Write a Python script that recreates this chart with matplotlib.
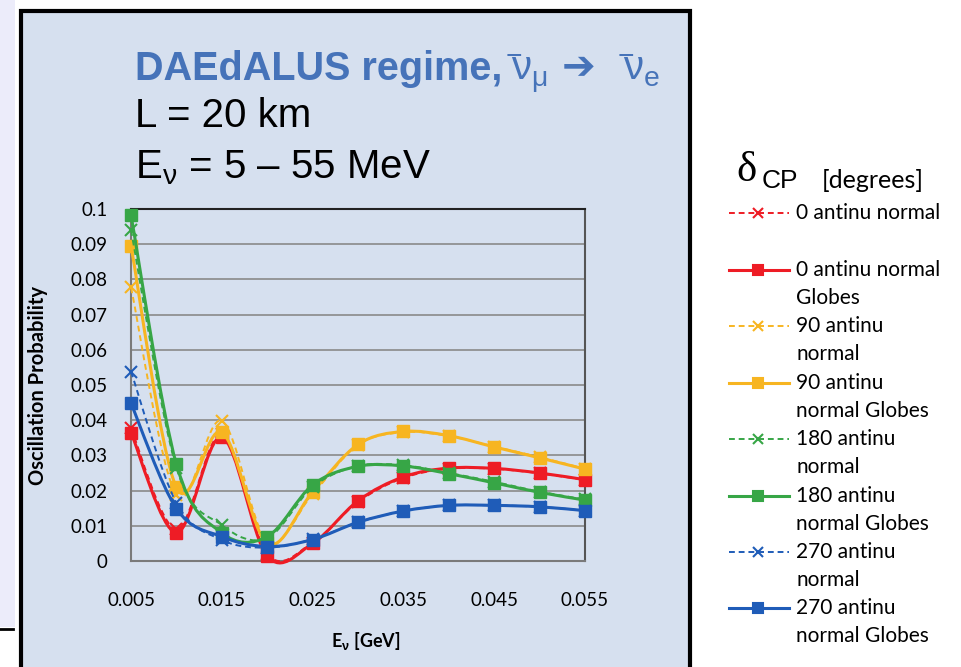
import numpy as np
import matplotlib
matplotlib.use("Agg")
import matplotlib.pyplot as plt
from matplotlib.path import Path
from matplotlib.patches import PathPatch, Rectangle
from matplotlib.lines import Line2D

# energies [GeV]
energia = [0.005, 0.010, 0.015, 0.020, 0.025, 0.030, 0.035, 0.040, 0.045, 0.050, 0.055]

# oscillation probability
p0_normal = [0.0377, 0.0090, 0.0360, 0.0020, 0.0052, 0.0168, 0.0236, 0.0262, 0.0262, 0.0249, 0.0230]
p0_globes = [0.0365, 0.0080, 0.0352, 0.0014, 0.0050, 0.0171, 0.0239, 0.0264, 0.0263, 0.0250, 0.0231]
p90_normal = [0.0777, 0.0187, 0.0398, 0.0055, 0.0190, 0.0330, 0.0366, 0.0355, 0.0325, 0.0295, 0.0262]
p90_globes = [0.0895, 0.0209, 0.0366, 0.0050, 0.0196, 0.0331, 0.0368, 0.0356, 0.0324, 0.0293, 0.0261]
p180_normal = [0.0940, 0.0265, 0.0102, 0.0065, 0.0210, 0.0270, 0.0272, 0.0250, 0.0225, 0.0197, 0.0175]
p180_globes = [0.0982, 0.0275, 0.0080, 0.0069, 0.0216, 0.0269, 0.0270, 0.0248, 0.0222, 0.0195, 0.0173]
p270_normal = [0.0538, 0.0165, 0.0060, 0.0038, 0.0062, 0.0110, 0.0142, 0.0158, 0.0158, 0.0154, 0.0143]
p270_globes = [0.0448, 0.0149, 0.0069, 0.0041, 0.0061, 0.0110, 0.0142, 0.0158, 0.0158, 0.0154, 0.0143]

etiquetas = [
    "0 antinu normal",
    "0 antinu normal\nGlobes",
    "90 antinu\nnormal",
    "90 antinu\nnormal Globes",
    "180 antinu\nnormal",
    "180 antinu\nnormal Globes",
    "270 antinu\nnormal",
    "270 antinu\nnormal Globes",
]
series = [p0_normal, p0_globes, p90_normal, p90_globes,
          p180_normal, p180_globes, p270_normal, p270_globes]

xticks = [0.005, 0.015, 0.025, 0.035, 0.045, 0.055]
xtick_labels = ["0.005", "0.015", "0.025", "0.035", "0.045", "0.055"]
yticks = [0, 0.01, 0.02, 0.03, 0.04, 0.05, 0.06, 0.07, 0.08, 0.09, 0.1]
ytick_labels = ["0", "0.01", "0.02", "0.03", "0.04", "0.05", "0.06", "0.07", "0.08", "0.09", "0.1"]

colores = ["#ee1c25", "#ee1c25", "#f7b521", "#f7b521",
           "#37a646", "#37a646", "#1f5cb8", "#1f5cb8"]

W, H = 961, 667
FONDO = "#d6e0ef"
AZUL = "#4673b9"
FUENTE = ["Lato", "DejaVu Sans"]

# letras griegas rectas en los textos matematicos
plt.rcParams["mathtext.fontset"] = "custom"
plt.rcParams["mathtext.rm"] = "Liberation Sans"
plt.rcParams["mathtext.it"] = "Liberation Sans"
plt.rcParams["mathtext.bf"] = "Liberation Sans:bold"


def curva_suave(x, y):
    # linea suavizada tipo excel: tramos catmull-rom como bezier cubicas
    pts = np.column_stack([x, y])
    n = len(pts)
    verts = [pts[0]]
    codes = [Path.MOVETO]
    for i in range(n - 1):
        p0 = pts[max(i - 1, 0)]
        p1 = pts[i]
        p2 = pts[i + 1]
        p3 = pts[min(i + 2, n - 1)]
        verts += [p1 + (p2 - p0) / 6, p2 - (p3 - p1) / 6, p2]
        codes += [Path.CURVE4] * 3
    return Path(verts, codes)


fig = plt.figure(figsize=(W / 100, H / 100), dpi=100, facecolor="white")

# fondo: marco del grafico y franja izquierda
bg = fig.add_axes([0, 0, 1, 1], zorder=-1)
bg.set_xlim(0, W)
bg.set_ylim(H, 0)
bg.axis("off")
bg.add_patch(Rectangle((0, 0), 15, 627, facecolor="#ececfa", edgecolor="none"))
bg.plot([0, 13], [629, 629], color="black", lw=2)
bg.add_patch(Rectangle((21, 11), 669, 670, facecolor=FONDO, edgecolor="black", lw=3))

# area de datos
x0, x1, y0, y1 = 131, 585, 209, 561
ax = fig.add_axes([x0 / W, 1 - y1 / H, (x1 - x0) / W, (y1 - y0) / H])
ax.set_facecolor("none")
ax.set_xlim(0.005, 0.055)
ax.set_ylim(0, 0.1)
ax.set_yticks(yticks)
ax.set_yticklabels(ytick_labels, fontsize=13.5, family=FUENTE)
ax.set_xticks(xticks)
ax.set_xticklabels(xtick_labels, fontsize=13.5, family=FUENTE)
ax.tick_params(length=0)
ax.tick_params(axis="y", pad=17)
ax.tick_params(axis="x", pad=22)
ax.grid(axis="y", color="#8a8a8a", lw=1.2)
ax.set_axisbelow(True)
for lado in ["left", "bottom"]:
    ax.spines[lado].set_color("#7a7a7a")
    ax.spines[lado].set_linewidth(1.5)
ax.spines["top"].set_color("#222222")
ax.spines["top"].set_linewidth(1.5)
ax.spines["right"].set_color("#555555")
ax.spines["right"].set_linewidth(1.5)

for i, (valores, col) in enumerate(zip(series, colores)):
    globes = i % 2 == 1
    ruta = curva_suave(energia, valores)
    ax.add_patch(PathPatch(
        ruta, fill=False, edgecolor=col,
        lw=2.2 if globes else 1.4,
        linestyle="-" if globes else (0, (3, 2)),
        zorder=3 + i, clip_on=False,
    ))
    if globes:
        ax.plot(energia, valores, ls="none", marker="s", ms=8, color=col,
                zorder=3 + i, clip_on=False)
    else:
        ax.plot(energia, valores, ls="none", marker="x", ms=8, mew=1.5,
                color=col, zorder=3 + i, clip_on=False)

# titulos
fig.text(135 / W, 1 - 80 / H, "DAEdALUS regime,", fontsize=28.5, fontweight="bold",
         color=AZUL, family="Liberation Sans", va="baseline")
fig.text(505 / W, 1 - 80 / H, r"$^{-}\!\!\nu_{\mu}$", fontsize=29, color=AZUL,
         va="baseline")
fig.text(562 / W, 1 - 79 / H, "➔", fontsize=29, color=AZUL,
         family="DejaVu Sans", va="baseline")
fig.text(617 / W, 1 - 80 / H, r"$^{-}\!\!\nu_{e}$", fontsize=29, color=AZUL,
         va="baseline")
fig.text(135 / W, 1 - 127 / H, "L = 20 km", fontsize=29,
         family="Liberation Sans", va="baseline")
fig.text(135 / W, 1 - 178 / H, r"E$_{\nu}$ = 5 – 55 MeV", fontsize=29,
         family="Liberation Sans", va="baseline")

fig.text(38 / W, 1 - 385 / H, "Oscillation Probability", rotation=90,
         fontsize=14.5, fontweight="bold", family=FUENTE,
         ha="center", va="center")
fig.text(366 / W, 1 - 641 / H, r"E$_{\mathbf{\nu}}$ [GeV]", fontsize=13,
         fontweight="bold", family=FUENTE, ha="center", va="center")

# leyenda manual
fig.text(736 / W, 1 - 181 / H, "δ", fontsize=31, family="Liberation Serif",
         va="baseline")
fig.text(762 / W, 1 - 188 / H, "CP", fontsize=19, family="Liberation Sans",
         va="baseline")
fig.text(822 / W, 1 - 188 / H, "[degrees]", fontsize=18, family=FUENTE,
         va="baseline")

filas = [213, 270, 326, 383, 439, 496, 552, 608]
for i, (yy, lab, col) in enumerate(zip(filas, etiquetas, colores)):
    globes = i % 2 == 1
    bg.add_line(Line2D([729, 789], [yy, yy], color=col,
                       lw=2.2 if globes else 1.4,
                       ls="-" if globes else (0, (3, 2))))
    bg.add_line(Line2D([758], [yy], ls="none", color=col,
                       marker="s" if globes else "x", ms=7, mew=1.5))
    for k, renglon in enumerate(lab.split("\n")):
        bg.text(796, yy + 28 * k, renglon, fontsize=15, family=FUENTE,
                va="center")

fig.savefig("out.png", dpi=100, facecolor="white")
